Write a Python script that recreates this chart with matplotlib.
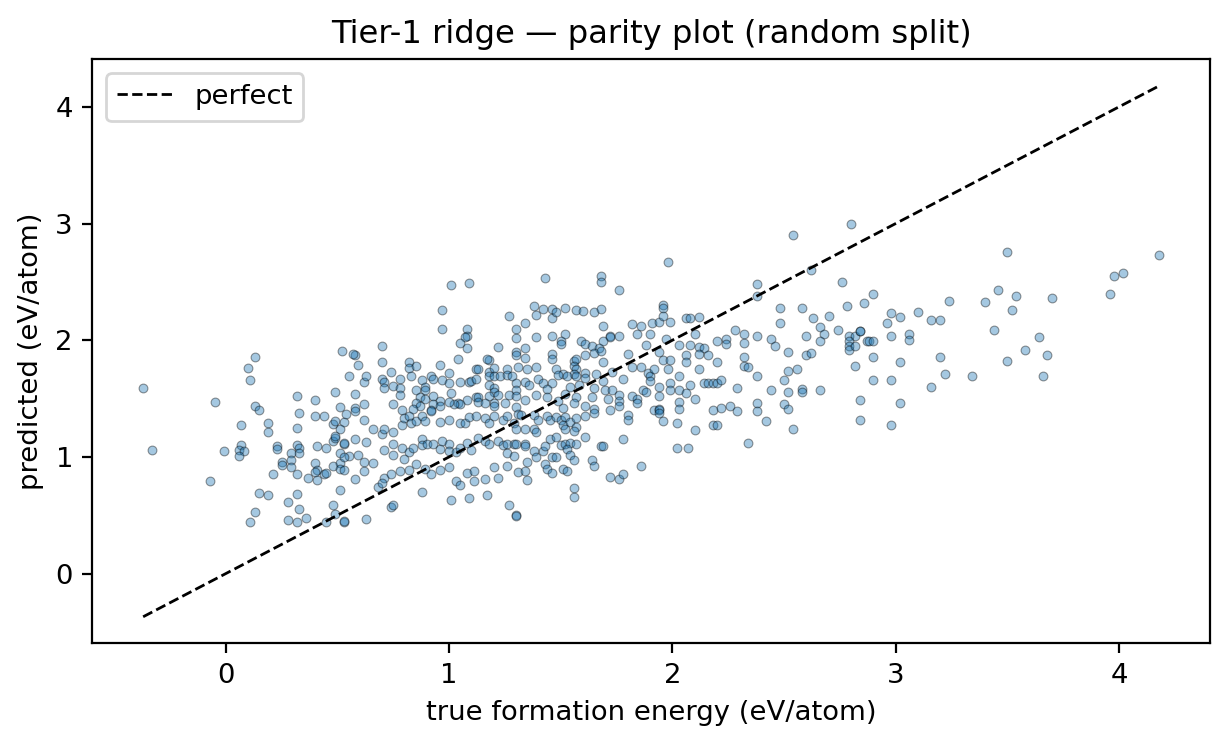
import numpy as np
import matplotlib
matplotlib.use("Agg")
import matplotlib.pyplot as plt

# points, grouped roughly by region: (true, predicted)
pts_right = [
    (3.50, 2.76), (4.18, 2.73), (3.98, 2.55), (4.02, 2.58), (3.96, 2.40), (2.90, 2.40), (2.86, 2.32),
    (3.24, 2.34), (3.40, 2.33), (3.46, 2.43), (3.54, 2.38), (3.70, 2.36), (3.52, 2.26), (2.98, 2.23),
    (3.02, 2.20), (3.10, 2.24), (2.96, 2.15), (3.16, 2.17), (3.20, 2.17), (2.84, 2.08), (3.44, 2.09),
    (2.98, 2.04), (3.06, 2.05), (3.06, 2.00), (2.88, 1.99), (2.90, 1.99), (3.64, 2.03), (3.58, 1.92),
    (3.68, 1.87), (2.90, 1.86), (3.02, 1.81), (3.20, 1.86), (3.50, 1.82), (3.22, 1.71), (3.34, 1.69),
    (3.66, 1.69), (2.90, 1.66), (2.98, 1.66), (3.16, 1.60), (2.84, 1.49), (3.02, 1.46), (2.84, 1.32),
    (2.98, 1.27),
]
pts_midright = [
    (2.80, 3.00), (2.54, 2.90), (1.98, 2.67), (2.62, 2.60), (2.76, 2.50), (2.38, 2.48), (2.38, 2.38),
    (1.96, 2.30), (1.96, 2.28), (1.96, 2.21), (2.48, 2.28), (2.58, 2.28), (2.78, 2.29), (1.99, 2.16),
    (2.06, 2.19), (2.08, 2.19), (2.12, 2.20), (2.48, 2.15), (2.63, 2.19), (2.70, 2.21), (2.66, 2.11),
    (2.68, 2.05), (2.74, 2.09), (2.28, 2.09), (2.32, 2.05), (2.38, 2.04), (2.10, 2.05), (1.97, 2.01),
    (2.44, 2.01), (2.60, 2.04), (2.79, 2.04), (2.82, 2.04), (2.84, 2.08), (2.79, 1.99), (2.79, 1.95),
    (2.79, 1.92), (2.82, 1.95), (2.87, 1.99), (2.03, 1.96), (2.08, 1.96), (2.12, 1.94), (2.14, 1.93),
    (2.20, 1.99), (2.24, 2.01), (2.24, 1.97), (2.32, 1.98), (2.46, 1.95), (2.66, 1.99), (2.06, 1.87),
    (2.12, 1.88), (2.16, 1.87), (2.32, 1.86), (2.52, 1.90), (2.60, 1.87), (2.62, 1.89), (1.96, 1.83),
    (1.99, 1.83), (2.06, 1.81), (2.20, 1.81), (2.32, 1.78), (2.34, 1.77), (2.82, 1.78), (1.98, 1.75),
    (2.12, 1.75), (2.52, 1.74), (2.56, 1.75), (2.03, 1.69), (2.38, 1.69), (2.50, 1.66), (1.99, 1.63),
    (2.08, 1.62), (2.14, 1.63), (2.16, 1.63), (2.18, 1.63), (2.20, 1.63), (2.22, 1.66), (1.99, 1.57),
    (2.03, 1.57), (2.06, 1.55), (2.29, 1.59), (2.44, 1.57), (2.52, 1.56), (2.58, 1.58), (2.58, 1.56),
    (2.66, 1.57), (2.03, 1.47), (2.03, 1.41), (2.10, 1.50), (1.94, 1.40), (1.94, 1.38), (1.96, 1.31),
    (2.18, 1.40), (2.22, 1.42), (2.26, 1.44), (2.29, 1.39), (2.38, 1.46), (2.38, 1.39), (2.50, 1.45),
    (2.52, 1.41), (2.02, 1.29), (2.18, 1.27), (2.20, 1.27), (2.10, 1.23), (2.42, 1.31), (2.54, 1.24),
    (2.34, 1.12), (2.02, 1.08), (2.07, 1.08),
]
pts_left = [
    (-0.37, 1.59), (-0.33, 1.06), (-0.07, 0.79), (-0.05, 1.47), (0.13, 1.86), (0.10, 1.76), (0.11, 1.66),
    (0.13, 1.44), (0.15, 1.40), (0.07, 1.27), (0.07, 1.10), (0.06, 1.06), (0.08, 1.05), (0.06, 1.01),
    (-0.01, 1.05), (0.19, 1.29), (0.19, 1.21), (0.32, 1.52), (0.40, 1.49), (0.33, 1.38), (0.40, 1.35),
    (0.44, 1.35), (0.49, 1.56), (0.51, 1.43), (0.32, 1.25), (0.48, 1.28), (0.49, 1.31), (0.53, 1.30),
    (0.51, 1.24), (0.48, 1.14), (0.49, 1.16), (0.49, 1.18), (0.53, 1.11), (0.23, 1.09), (0.23, 1.07),
    (0.32, 1.10), (0.33, 1.08), (0.33, 1.03), (0.29, 1.03), (0.41, 1.09), (0.45, 1.08), (0.51, 1.03),
    (0.55, 1.01), (0.25, 0.96), (0.25, 0.93), (0.29, 0.97), (0.29, 0.91), (0.32, 0.85), (0.21, 0.85),
    (0.40, 0.95), (0.41, 0.89), (0.44, 0.85), (0.45, 0.86), (0.40, 0.87), (0.37, 0.82), (0.41, 0.80),
    (0.48, 0.92), (0.51, 0.95), (0.51, 0.90), (0.51, 0.72), (0.15, 0.69), (0.19, 0.67), (0.32, 0.68),
    (0.28, 0.61), (0.13, 0.53), (0.11, 0.44), (0.33, 0.55), (0.36, 0.48), (0.28, 0.46), (0.32, 0.44),
    (0.48, 0.59), (0.49, 0.51), (0.53, 0.44), (0.45, 0.44),
]
pts_center_top = [
    (1.01, 2.47), (1.09, 2.49), (0.97, 2.26), (0.97, 2.10), (1.08, 2.10), (1.08, 2.04), (1.07, 2.03),
    (1.05, 1.98), (1.08, 1.93), (1.27, 2.21), (1.30, 2.10), (1.30, 2.02), (1.22, 1.94), (1.30, 1.90),
    (1.30, 1.87), (1.04, 1.84), (1.18, 1.83), (1.17, 1.84), (0.52, 1.91), (0.58, 1.87), (0.57, 1.88),
    (0.59, 1.79), (0.70, 1.95), (0.70, 1.81), (0.82, 1.81), (0.82, 1.76), (0.85, 1.78), (0.96, 1.79),
    (0.55, 1.69), (0.62, 1.64), (0.63, 1.69), (0.58, 1.54), (0.70, 1.67), (0.71, 1.64), (0.71, 1.59),
    (0.74, 1.73), (0.75, 1.61), (0.78, 1.67), (0.78, 1.59), (0.78, 1.53), (0.83, 1.69), (0.85, 1.57),
    (0.88, 1.66), (0.89, 1.60), (0.89, 1.57), (0.92, 1.69), (0.93, 1.67), (0.87, 1.51), (0.89, 1.50),
    (0.93, 1.52), (0.96, 1.48), (0.97, 1.66), (1.00, 1.72), (1.00, 1.63), (1.01, 1.55), (1.05, 1.64),
    (1.09, 1.64), (1.10, 1.65), (1.12, 1.75), (1.12, 1.67), (1.13, 1.75), (1.18, 1.73), (1.18, 1.69),
    (1.18, 1.62), (1.20, 1.76), (1.20, 1.69), (1.20, 1.59), (1.20, 1.56), (1.23, 1.69), (1.26, 1.75),
    (1.26, 1.70), (1.28, 1.69), (1.30, 1.63), (1.30, 1.57), (1.27, 1.53), (1.30, 1.52), (1.12, 1.51),
    (1.13, 1.51), (1.13, 1.47), (1.18, 1.52), (1.20, 1.46), (1.20, 1.44), (1.22, 1.53), (1.08, 1.49),
    (1.04, 1.46), (1.05, 1.45), (1.02, 1.45), (0.85, 1.46), (0.87, 1.44), (0.93, 1.45), (0.96, 1.44),
    (0.75, 1.45), (0.62, 1.45), (0.58, 1.42),
]
pts_center_low = [
    (0.79, 1.40), (0.84, 1.41), (0.92, 1.40), (1.00, 1.47), (1.16, 1.46), (1.25, 1.46), (1.30, 1.43),
    (0.54, 1.37), (0.58, 1.39), (0.62, 1.32), (0.66, 1.24), (0.70, 1.20), (0.71, 1.24), (0.75, 1.21),
    (0.79, 1.27), (0.80, 1.33), (0.82, 1.35), (0.83, 1.29), (0.85, 1.31), (0.88, 1.35), (0.89, 1.31),
    (0.92, 1.39), (0.96, 1.30), (1.00, 1.32), (1.05, 1.29), (1.07, 1.29), (1.09, 1.34), (1.12, 1.35),
    (1.16, 1.33), (1.18, 1.29), (1.20, 1.35), (1.24, 1.32), (1.26, 1.35), (1.29, 1.29), (1.31, 1.37),
    (0.53, 1.12), (0.58, 1.15), (0.63, 1.13), (0.53, 1.00), (0.59, 1.02), (0.62, 0.96), (0.66, 0.95),
    (0.71, 1.06), (0.75, 1.11), (0.75, 1.02), (0.79, 1.08), (0.82, 1.04), (0.84, 1.08), (0.88, 1.15),
    (0.88, 1.10), (0.90, 1.11), (0.93, 1.11), (0.96, 1.07), (0.97, 1.14), (1.00, 1.11), (1.00, 1.05),
    (1.03, 1.04), (1.05, 1.08), (1.08, 1.12), (1.10, 1.06), (1.13, 1.16), (1.16, 1.14), (1.18, 1.11),
    (1.22, 1.14), (1.24, 1.10), (1.26, 1.11), (1.29, 1.11), (1.26, 1.03), (1.29, 1.01),
    (0.53, 0.89), (0.58, 0.81), (0.62, 0.88), (0.68, 0.74), (0.71, 0.82), (0.70, 0.78), (0.74, 0.85),
    (0.78, 0.88), (0.80, 0.98), (0.82, 0.89), (0.85, 0.94), (0.89, 0.90), (0.92, 0.85), (0.96, 0.89),
    (1.00, 0.91), (1.03, 0.79), (1.05, 0.76), (1.08, 0.86), (1.11, 0.88), (1.11, 0.79), (1.16, 0.81),
    (1.20, 0.91), (1.22, 0.82), (1.26, 0.92), (0.88, 0.70), (0.74, 0.57), (0.75, 0.59), (0.63, 0.47),
    (0.53, 0.45), (1.01, 0.63), (1.09, 0.65), (1.17, 0.67), (1.27, 0.59), (1.30, 0.50),
]
pts_mid_top = [
    (1.43, 2.53), (1.68, 2.55), (1.68, 2.50), (1.76, 2.43), (1.38, 2.29), (1.39, 2.22), (1.42, 2.27),
    (1.46, 2.27), (1.46, 2.19), (1.48, 2.24), (1.52, 2.28), (1.57, 2.26), (1.60, 2.25), (1.65, 2.24),
    (1.68, 2.27), (1.34, 2.15), (1.39, 2.03), (1.46, 2.04), (1.52, 2.05), (1.50, 1.99), (1.50, 1.97),
    (1.69, 2.12), (1.72, 2.04), (1.72, 2.03), (1.76, 2.04), (1.69, 1.99), (1.82, 2.14), (1.86, 2.12),
    (1.84, 2.05), (1.90, 2.05), (1.91, 2.15), (1.94, 2.16), (1.59, 1.99), (1.61, 1.97), (1.64, 1.95),
    (1.67, 1.93), (1.65, 1.89), (1.68, 1.91), (1.34, 1.93), (1.34, 1.85), (1.46, 1.88), (1.46, 1.84),
    (1.61, 1.87), (1.56, 1.82), (1.57, 1.84), (1.69, 1.81), (1.80, 1.88), (1.88, 1.96), (1.94, 1.90),
    (1.31, 1.77), (1.35, 1.75), (1.39, 1.77), (1.48, 1.75), (1.51, 1.71), (1.56, 1.78), (1.57, 1.75),
    (1.56, 1.71), (1.57, 1.69), (1.53, 1.69), (1.61, 1.72), (1.61, 1.68), (1.66, 1.71), (1.69, 1.65),
    (1.73, 1.73), (1.78, 1.67), (1.82, 1.77), (1.86, 1.77), (1.89, 1.72), (1.90, 1.69), (1.90, 1.65),
    (1.92, 1.75), (1.34, 1.64), (1.36, 1.62), (1.40, 1.67), (1.42, 1.63), (1.46, 1.63), (1.49, 1.70),
    (1.44, 1.58), (1.54, 1.60), (1.58, 1.62), (1.65, 1.59), (1.70, 1.57), (1.73, 1.57), (1.76, 1.53),
    (1.82, 1.52), (1.87, 1.57), (1.88, 1.56), (1.94, 1.60), (1.34, 1.49), (1.39, 1.53), (1.44, 1.51),
    (1.49, 1.48), (1.52, 1.54), (1.57, 1.51), (1.64, 1.51), (1.71, 1.50), (1.76, 1.48), (1.84, 1.50),
    (1.94, 1.52),
]
pts_mid_low = [
    (1.51, 1.42), (1.56, 1.46), (1.61, 1.44), (1.65, 1.41), (1.76, 1.44), (1.92, 1.40), (1.94, 1.41),
    (1.65, 1.38), (1.72, 1.40), (1.80, 1.36), (1.80, 1.32), (1.84, 1.46), (1.32, 1.36), (1.38, 1.36),
    (1.40, 1.32), (1.44, 1.35), (1.45, 1.32), (1.48, 1.34), (1.50, 1.32), (1.52, 1.34), (1.51, 1.27),
    (1.54, 1.30), (1.57, 1.33), (1.61, 1.35), (1.57, 1.26), (1.52, 1.24), (1.56, 1.22), (1.30, 1.24),
    (1.34, 1.24), (1.38, 1.24), (1.39, 1.21), (1.45, 1.15), (1.48, 1.17), (1.50, 1.10), (1.52, 1.11),
    (1.54, 1.12), (1.57, 1.11), (1.61, 1.17), (1.68, 1.09), (1.69, 1.09), (1.78, 1.15), (1.30, 1.11),
    (1.34, 1.11), (1.34, 1.09), (1.38, 1.05), (1.39, 1.00), (1.42, 1.05), (1.43, 1.09), (1.46, 1.00),
    (1.48, 1.00), (1.53, 1.07), (1.54, 1.02), (1.56, 0.97), (1.64, 0.97), (1.65, 0.92), (1.43, 0.94),
    (1.35, 0.96), (1.44, 0.90), (1.46, 0.86), (1.51, 0.90), (1.53, 0.88), (1.31, 0.87), (1.34, 0.88),
    (1.35, 0.80), (1.56, 0.73), (1.56, 0.66), (1.72, 0.83), (1.76, 0.81), (1.78, 0.85), (1.86, 0.92),
    (1.30, 0.49),
]

all_pts = pts_left + pts_center_top + pts_center_low + pts_mid_top + pts_mid_low + pts_midright + pts_right
y_true = np.array([p[0] for p in all_pts])
y_pred = np.array([p[1] for p in all_pts])

fig, ax = plt.subplots(figsize=(6.14, 3.735), dpi=200)
fig.subplots_adjust(left=0.0752, right=0.9853, bottom=0.1388, top=0.9206)

ax.scatter(y_true, y_pred, s=10, alpha=0.4, color="tab:blue",
           edgecolors="k", linewidths=0.4)

lo = min(y_true.min(), y_pred.min())
hi = max(y_true.max(), y_pred.max())
ax.plot([lo, hi], [lo, hi], "k--", linewidth=1, label="perfect")

ax.set_xlabel("true formation energy (eV/atom)", fontsize=9.9)
ax.set_ylabel("predicted (eV/atom)", fontsize=9.9)
ax.set_title("Tier-1 ridge \u2014 parity plot (random split)", fontsize=11.6)
ax.tick_params(labelsize=9.9)
ax.legend(loc="upper left", fontsize=9.9)

fig.savefig("out.png", dpi=200)
